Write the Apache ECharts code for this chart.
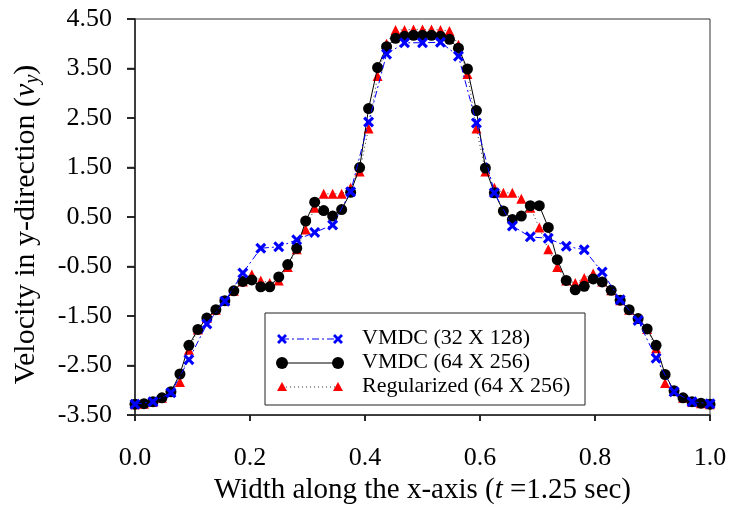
<!DOCTYPE html>
<html>
	<head>
		<meta charset="utf-8">
		<title>Velocity in y-direction</title>
		<script src="https://cdn.jsdelivr.net/npm/echarts@6/dist/echarts.min.js"></script>
	</head>
	<body style="margin:0;background:#fff;">
		<div id="main" style="width:730px;height:510px;"></div>
		<script type="text/javascript">
			// x positions: 32 X 128 grid -> step 1/32, 64 X 256 grid -> step 1/64
			var xCoarse = [];
			for (var i = 0; i <= 32; i++) xCoarse.push(i / 32);
			var xFine = [];
			for (var i = 0; i <= 64; i++) xFine.push(i / 64);

			// tick values of both axes
			var xTicks = [0, 0.2, 0.4, 0.6, 0.8, 1.0];
			var yTicks = [-3.5, -2.5, -1.5, -0.5, 0.5, 1.5, 2.5, 3.5, 4.5];

			// VMDC (32 X 128)
			var vmdc32 = [-3.28, -3.23, -3.05, -2.38, -1.66, -1.20, -0.63, -0.13, -0.10, 0.04, 0.19, 0.34, 1.01,
				2.42, 3.79, 4.02, 4.02, 4.03, 3.75, 2.40, 0.99, 0.32, 0.10, 0.07, -0.09, -0.16,
				-0.61, -1.17, -1.59, -2.35, -3.03, -3.23, -3.27];

			// VMDC (64 X 256)
			var vmdc64 = [-3.28, -3.27, -3.23, -3.15, -3.03, -2.67, -2.09, -1.77, -1.54, -1.37, -1.19, -0.99, -0.80,
				-0.77, -0.91, -0.91, -0.71, -0.46, -0.13, 0.42, 0.80, 0.63, 0.52, 0.65, 1.00, 1.50, 2.69, 3.52,
				3.94, 4.11, 4.15, 4.17, 4.17, 4.17, 4.15, 4.09, 3.91, 3.49, 2.65, 1.49, 0.99, 0.62, 0.45, 0.52,
				0.73, 0.73, 0.29, -0.36, -0.78, -0.97, -0.90, -0.75, -0.81, -0.98, -1.18, -1.37, -1.55, -1.76,
				-2.09, -2.68, -3.01, -3.15, -3.23, -3.26, -3.28];

			// Regularized (64 X 256)
			var regularized = [-3.28, -3.27, -3.23, -3.15, -3.03, -2.83, -2.18, -1.77, -1.54, -1.37, -1.19, -0.99, -0.80,
				-0.66, -0.78, -0.83, -0.78, -0.51, -0.15, 0.25, 0.69, 0.97, 0.97, 0.97, 1.09, 1.42, 2.29, 3.35,
				4.00, 4.28, 4.28, 4.29, 4.29, 4.29, 4.28, 4.26, 3.98, 3.39, 2.29, 1.42, 1.09, 0.99, 0.99, 0.87,
				0.69, 0.29, -0.15, -0.51, -0.78, -0.83, -0.73, -0.64, -0.80, -0.98, -1.18, -1.37, -1.55, -1.76,
				-2.15, -2.85, -3.01, -3.15, -3.23, -3.26, -3.28];

			var seriesNames = ['VMDC (32 X 128)', 'VMDC (64 X 256)', 'Regularized (64 X 256)'];

			function pairs(xs, ys) {
				return ys.map(function (v, k) { return [xs[k], v]; });
			}

			var crossPath = 'path://M2,0 L5,3 L8,0 L10,2 L7,5 L10,8 L8,10 L5,7 L2,10 L0,8 L3,5 L0,2 Z';
			var serif = '"Liberation Serif", "Times New Roman", serif';

			// same cross as a polygon for the hand drawn legend
			function crossPoints(cx, cy) {
				var p = [[-5, -3], [-3, -5], [0, -2], [3, -5], [5, -3], [2, 0], [5, 3], [3, 5], [0, 2], [-3, 5], [-5, 3], [-2, 0]];
				return p.map(function (q) { return [cx + q[0], cy + q[1]]; });
			}

			var myChart = echarts.init(document.getElementById('main'));

			// legend drawn by hand: a marker at both ends of each line sample
			var legendRows = [
				{ y: 339, symbol: 'cross', color: '#0000ff', line: '#0000ff', dash: [7, 3, 2, 3] },
				{ y: 363, symbol: 'circle', color: '#000', line: '#000', dash: null },
				{ y: 387, symbol: 'triangle', color: '#ff0000', line: '#333', dash: [1, 3] }
			];
			var graphics = [{
				type: 'rect', shape: { x: 265, y: 313, width: 320, height: 92 },
				style: { fill: '#fff', stroke: '#222', lineWidth: 1 }, z: 10
			}];
			legendRows.forEach(function (r, k) {
				graphics.push({
					type: 'line', shape: { x1: 282, y1: r.y, x2: 338, y2: r.y },
					style: { stroke: r.line, lineWidth: 1, lineDash: r.dash }, z: 11
				});
				[282, 338].forEach(function (px) {
					var el;
					if (r.symbol === 'circle') {
						el = { type: 'circle', shape: { cx: px, cy: r.y, r: 6 } };
					} else if (r.symbol === 'triangle') {
						el = { type: 'polygon', shape: { points: [[px, r.y - 5], [px + 5, r.y + 4], [px - 5, r.y + 4]] } };
					} else {
						el = { type: 'polygon', shape: { points: crossPoints(px, r.y) } };
					}
					el.style = { fill: r.color };
					el.z = 12;
					graphics.push(el);
				});
				graphics.push({
					type: 'text', left: 362, top: r.y - 12,
					style: { text: seriesNames[k], font: '22px ' + serif, fill: '#000' }, z: 12
				});
			});

			var option = {
				backgroundColor: '#fff',
				animation: false,
				grid: {
					left: 135, right: 20, top: 19, bottom: 90,
					show: true, borderColor: '#333', borderWidth: 1
				},
				xAxis: {
					type: 'value', min: 0, max: 1, interval: 0.2,
					name: '{a|Width along the x-axis (}{i|t}{a| =1.25 sec)}',
					nameLocation: 'middle', nameGap: 55,
					nameTextStyle: {
						rich: {
							a: { fontFamily: serif, fontSize: 29, color: '#000' },
							i: { fontFamily: serif, fontSize: 29, fontStyle: 'italic', color: '#000' }
						}
					},
					axisLine: { onZero: false, lineStyle: { color: '#222', width: 1.5 } },
					axisTick: { show: true, inside: false, length: 6, lineStyle: { color: '#000', width: 1.5 } },
					axisLabel: {
						fontFamily: serif, fontSize: 26, color: '#000', margin: 30,
						formatter: function (v) { return v.toFixed(1); }
					},
					splitLine: { show: false }
				},
				yAxis: {
					type: 'value', min: -3.5, max: 4.5, interval: 1,
					name: '{a|Velocity in y-direction (}{i|v}{s|y}{a|)}',
					nameLocation: 'middle', nameGap: 92, nameRotate: 90,
					nameTextStyle: {
						padding: [0, 15, 0, 0],
						rich: {
							a: { fontFamily: serif, fontSize: 30, color: '#000' },
							i: { fontFamily: serif, fontSize: 30, fontStyle: 'italic', color: '#000' },
							s: { fontFamily: serif, fontSize: 20, fontStyle: 'italic', color: '#000', padding: [14, 0, 0, 0] }
						}
					},
					axisLine: { onZero: false, lineStyle: { color: '#222', width: 1.5 } },
					axisTick: { show: true, inside: false, length: 8, lineStyle: { color: '#000', width: 1.5 } },
					axisLabel: {
						fontFamily: serif, fontSize: 26, color: '#000', margin: 23,
						formatter: function (v) { return v.toFixed(2); }
					},
					splitLine: { show: false }
				},
				series: [
					{
						name: seriesNames[2], type: 'line', data: pairs(xFine, regularized),
						symbol: 'triangle', symbolSize: 10, z: 2,
						itemStyle: { color: '#ff0000' },
						lineStyle: { color: '#333', width: 1, type: [1, 3] }
					},
					{
						name: seriesNames[1], type: 'line', data: pairs(xFine, vmdc64),
						symbol: 'circle', symbolSize: 11, z: 3,
						itemStyle: { color: '#000' },
						lineStyle: { color: '#000', width: 1 }
					},
					{
						name: seriesNames[0], type: 'line', data: pairs(xCoarse, vmdc32),
						symbol: crossPath, symbolSize: 11, z: 4,
						itemStyle: { color: '#0000ff' },
						lineStyle: { color: '#0000ff', width: 1, type: [7, 3, 2, 3] }
					}
				],
				graphic: graphics
			};

			myChart.setOption(option);

			// outward tick marks, placed through the axes' own scales
			var origin = myChart.convertToPixel({ gridIndex: 0 }, [0, -3.5]);
			xTicks.forEach(function (v) {
				var p = myChart.convertToPixel({ gridIndex: 0 }, [v, -3.5]);
				graphics.push({
					type: 'line', shape: { x1: p[0], y1: origin[1], x2: p[0], y2: origin[1] + 6 },
					style: { stroke: '#222', lineWidth: 1.5 }, z: 5
				});
			});
			yTicks.forEach(function (v) {
				var p = myChart.convertToPixel({ gridIndex: 0 }, [0, v]);
				graphics.push({
					type: 'line', shape: { x1: origin[0] - 8, y1: p[1], x2: origin[0], y2: p[1] },
					style: { stroke: '#222', lineWidth: 1.5 }, z: 5
				});
			});
			myChart.setOption({ graphic: graphics });
		</script>
	</body>
</html>
